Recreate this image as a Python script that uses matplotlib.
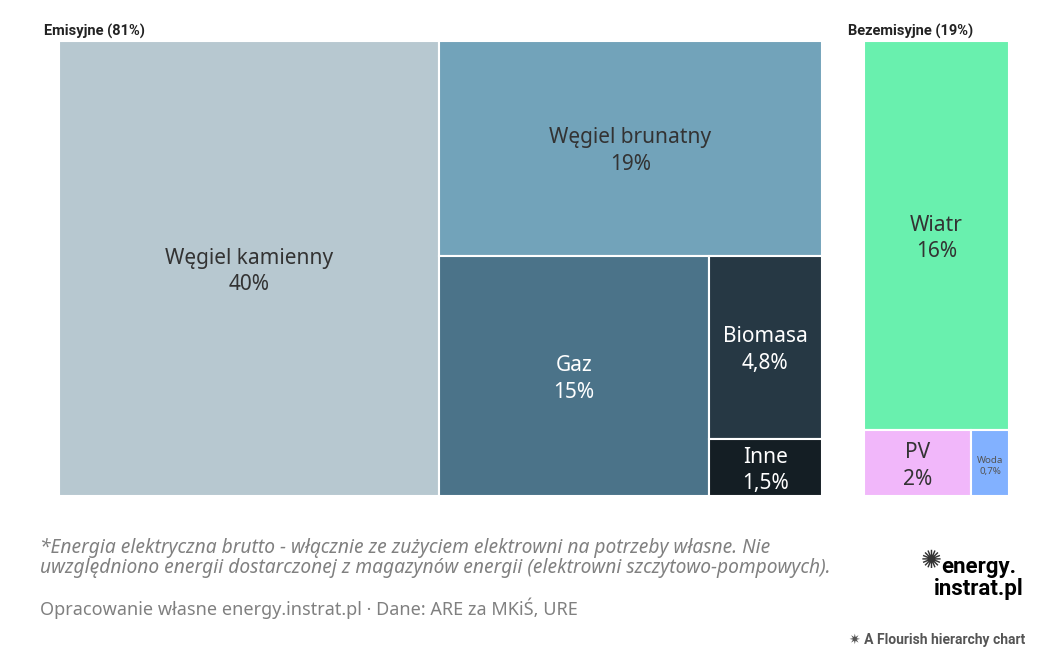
import matplotlib.pyplot as plt
from matplotlib.patches import Rectangle

plt.rcParams['font.family'] = ['Noto Sans', 'DejaVu Sans']

# data (share of gross electricity production, %)
emis_names = ['Węgiel kamienny', 'Węgiel brunatny', 'Gaz', 'Biomasa', 'Inne']
emis_values = [40, 19, 15, 4.8, 1.5]
emis_labels = ['40%', '19%', '15%', '4,8%', '1,5%']
emis_colors = ['#b7c8d0', '#72a3ba', '#4b7389', '#263844', '#141e24']
emis_text = ['#333333', '#333333', 'white', 'white', 'white']

zero_names = ['Wiatr', 'PV', 'Woda']
zero_values = [16, 2, 0.7]
zero_labels = ['16%', '2%', '0,7%']
zero_colors = ['#69f0ae', '#f1b7fa', '#82b1ff']
zero_text = ['#333333', '#333333', '#555555']

group_titles = ['Emisyjne (81%)', 'Bezemisyjne (19%)']

W, H = 1042, 658
narrow = ['Liberation Sans Narrow', 'Roboto', 'DejaVu Sans']


def sliceLayout(values, x, y, w, h):
    '''Each item takes a slice along the longer side of what is left.'''
    rects = []
    rest = float(sum(values))
    for v in values:
        frac = v / rest
        if w >= h:
            rects.append((x, y, w * frac, h))
            x += w * frac
            w -= w * frac
        else:
            rects.append((x, y, w, h * frac))
            y += h * frac
            h -= h * frac
        rest -= v
    return rects


def drawGroup(ax, names, values, labels, colors, tcolors, box, small=()):
    for i, r in enumerate(sliceLayout(values, *box)):
        ax.add_patch(Rectangle((r[0], r[1]), r[2], r[3], facecolor=colors[i],
                               edgecolor='white', linewidth=1.5))
        cx = r[0] + r[2] / 2
        cy = r[1] + r[3] / 2
        fs = 7 if names[i] in small else 15
        ax.text(cx, cy + 3, names[i] + '\n' + labels[i], ha='center', va='center',
                fontsize=fs, color=tcolors[i], linespacing=1.35)


fig = plt.figure(figsize=(W / 100, H / 100), dpi=100)
ax = fig.add_axes([0, 0, 1, 1])
ax.set_xlim(0, W)
ax.set_ylim(H, 0)
ax.axis('off')

drawGroup(ax, emis_names, emis_values, emis_labels, emis_colors, emis_text,
          (59, 41, 763, 455))
drawGroup(ax, zero_names, zero_values, zero_labels, zero_colors, zero_text,
          (864, 41, 145, 455), small=('Woda',))

ax.text(44, 31, group_titles[0], fontsize=10.5, fontweight='bold', color='#222222',
        va='center', family=narrow)
ax.text(848, 31, group_titles[1], fontsize=10.5, fontweight='bold', color='#222222',
        va='center', family=narrow)

# footnotes
ax.text(40, 558, '*Energia elektryczna brutto - włącznie ze zużyciem elektrowni na potrzeby własne. Nie\n'
        'uwzględniono energii dostarczonej z magazynów energii (elektrowni szczytowo-pompowych).',
        fontsize=13.8, style='italic', color='#808080', va='center', linespacing=1.05)
ax.text(40, 608, 'Opracowanie własne energy.instrat.pl · Dane: ARE za MKiŚ, URE',
        fontsize=13, color='#808080', va='center')

# logo
ax.text(941, 567, 'energy.', fontsize=16, fontweight='bold', color='black', va='center',
        family=narrow)
ax.text(934, 589, 'instrat.pl', fontsize=16, fontweight='bold', color='black', va='center',
        family=narrow)
ax.text(931, 561, '✺', fontsize=18, color='#333333', va='center', ha='center')

ax.text(1025, 640, '✷ A Flourish hierarchy chart', fontsize=10, fontweight='bold',
        color='#555555', ha='right', va='center', family=narrow)

fig.savefig('out.png', dpi=100)
